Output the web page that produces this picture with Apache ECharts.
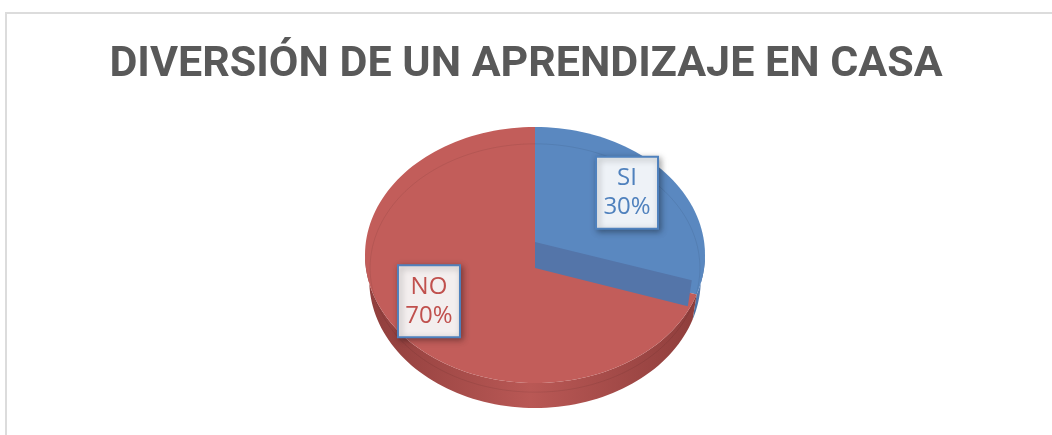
<!DOCTYPE html>
<html>
<head>
<meta charset="utf-8">
<script src="https://cdn.jsdelivr.net/npm/echarts@6/dist/echarts.min.js"></script>
<style>
  html, body { margin: 0; padding: 0; background: #fff; }
  #frame {
    position: absolute; left: 5px; top: 12px; width: 1060px; height: 440px;
    border-left: 2px solid #dcdcdc; border-top: 2px solid #dcdcdc;
  }
  #main { position: absolute; left: 0; top: 0; width: 1052px; height: 435px; }
</style>
</head>
<body>
<div id="frame"></div>
<div id="main"></div>
<script>
// datos del gráfico
const categories = ['SI', 'NO']
const values = [30, 70]
const topColors = ['#5a88c0', '#c25d5a']
const sideColors = [['#45699a', '#557bb0'], ['#8f3e3c', '#b95855']]

const chart = echarts.init(document.getElementById('main'))

// geometría del pastel "3D" (elipse)
const cx = 535, cy = 255, rx = 170, ry = 128, depth = 25
const total = values.reduce((a, b) => a + b, 0)

function pt (deg, dy, k, kx) {
  const r = deg * Math.PI / 180
  const f = k || 1
  const fx = kx || 1
  return [cx + rx * f * fx * Math.sin(r), cy + (dy || 0) - ry * f * Math.cos(r)]
}

function arc (a0, a1, dy, k, kx) {
  const pts = []
  const n = Math.max(2, Math.ceil(Math.abs(a1 - a0) / 2))
  for (let i = 0; i <= n; i++) pts.push(pt(a0 + (a1 - a0) * i / n, dy, k, kx))
  return pts
}

function renderItem (params, api) {
  const idx = params.dataIndex
  let start = 0
  for (let i = 0; i < idx; i++) start += values[i]
  const a0 = start / total * 360
  const a1 = (start + api.value(0)) / total * 360
  const children = []

  // lado visible (frente de la elipse)
  const s = Math.max(a0, 90), e = Math.min(a1, 270)
  if (e > s) {
    const upper = arc(s, e, 0)
    const lower = arc(e, s, depth, 1, 0.975)
    children.push({
      type: 'polygon', z2: 1,
      shape: { points: upper.concat(lower) },
      style: {
        fill: new echarts.graphic.LinearGradient(0, 0, 1, 0, [
          { offset: 0, color: sideColors[idx][0] },
          { offset: 0.5, color: sideColors[idx][1] },
          { offset: 1, color: sideColors[idx][0] }
        ], false)
      }
    })
  }

  // cara superior
  children.push({
    type: 'polygon', z2: 2,
    shape: { points: [[cx, cy]].concat(arc(a0, a1, 0)) },
    style: { fill: topColors[idx] }
  })

  // línea interior tenue (bisel)
  children.push({
    type: 'polyline', z2: 3,
    shape: { points: arc(a0, a1, 13, 0.97) },
    style: { stroke: 'rgba(0,0,0,0.07)', lineWidth: 1, fill: null }
  })

  // pared radial del primer sector
  if (idx === 0) {
    const b = 13
    const E = pt(a1, 0, 0.97)
    children.push({
      type: 'polygon', z2: 4,
      shape: { points: [[cx, cy - b], [E[0], E[1] - b], [E[0] - 4, E[1] + b], [cx, cy + b]] },
      style: { fill: '#5475a9' }
    })
  }

  // etiqueta
  const mid = (a0 + a1) / 2
  const L = pt(mid, -8, 0.72)
  L[0] -= 7
  children.push({
    type: 'rect', z2: 10,
    shape: { x: L[0] - 31, y: L[1] - 36, width: 62, height: 72 },
    style: {
      fill: idx === 0 ? '#eef2f7' : '#f3eeee',
      stroke: '#4f81bd', lineWidth: 2,
      shadowBlur: 6, shadowOffsetX: 2, shadowOffsetY: 2, shadowColor: 'rgba(0,0,0,0.35)'
    }
  })
  children.push({
    type: 'text', z2: 11,
    style: {
      x: L[0], y: L[1],
      text: categories[idx] + '\n' + Math.round(api.value(0) / total * 100) + '%',
      fill: idx === 0 ? '#4f81bd' : '#c0504d',
      font: '24px "Open Sans"', lineHeight: 29,
      align: 'center', verticalAlign: 'middle'
    }
  })

  return { type: 'group', children: children }
}

chart.setOption({
  animation: false,
  title: {
    text: 'DIVERSIÓN DE UN APRENDIZAJE EN CASA',
    left: 'center',
    top: 39,
    textStyle: { fontFamily: 'Roboto', fontWeight: 'bold', fontSize: 43, color: '#595959' }
  },
  series: [{
    type: 'custom',
    coordinateSystem: 'none',
    renderItem: renderItem,
    data: values.map((v, i) => ({ name: categories[i], value: v }))
  }]
})
</script>
</body>
</html>
